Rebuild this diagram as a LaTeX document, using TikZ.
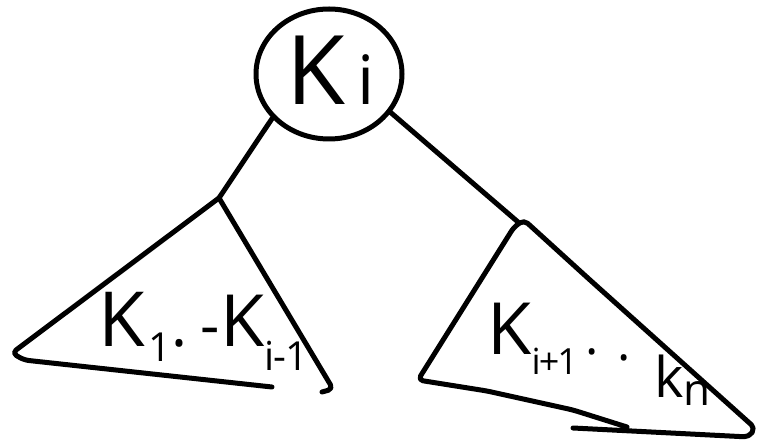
\documentclass[tikz,border=0pt]{standalone}
\usepackage{fontspec}
\setmainfont{Open Sans}
\usetikzlibrary{shapes.geometric}
\newcommand{\fsz}[1]{\fontsize{#1}{#1}\selectfont}
\begin{document}
\begin{tikzpicture}[x=1pt,y=-1pt,line width=5pt,line cap=round,line join=round,
  ink/.style={draw=black,line width=5pt,rounded corners=5pt},
  lbl/.style={inner sep=0pt,anchor=base west}]
\useasboundingbox (0,0) rectangle (761,443);
% root
\node[ellipse,draw,line width=5pt,minimum width=146pt,minimum height=130pt,inner sep=0pt] (root) at (329,74) {};
\node[lbl] (rootlbl) at (284,105) {\fsz{96}K\hspace{12pt}\fsz{68}i};
% left subtree
\coordinate (lA) at (219,198);
\draw[ink] (root.-142) -- (lA);
\draw[ink] (lA) -- (12,353) -- (24,360) -- (272,387);
\draw[ink] (lA) -- (333,389) -- (322,392);
\node[lbl] (leftlbl) at (96,347) {\fsz{76}K\hspace{3pt}\raisebox{-15pt}{\fsz{40}1}\fsz{60}.\hspace{14pt}-\hspace{0pt}\fsz{72}K\raisebox{-24pt}{\fsz{40}i\hspace{-1pt}-\hspace{-1pt}1}};
% right subtree
\coordinate (rA) at (518,222);
\draw[ink] (root.-32) -- (rA);
\draw[ink] (627,427) -- (573,410) -- (487,391) -- (418,380) -- (514,227) -- (524,220) -- (590,280) -- (755,428) -- (749,437) -- (573,428);
\node[lbl] (rightlbl) at (485,355) {\fsz{72}K\raisebox{-20pt}{\fsz{36}i\hspace{-2pt}+\hspace{-2pt}1}\hspace{8pt}\fsz{50}.\hspace{18pt}\raisebox{-6pt}{.}};
\node[lbl] (kn) at (652,398) {\fsz{56}k\raisebox{-8pt}{\fsz{44}n}};
\end{tikzpicture}
\end{document}
